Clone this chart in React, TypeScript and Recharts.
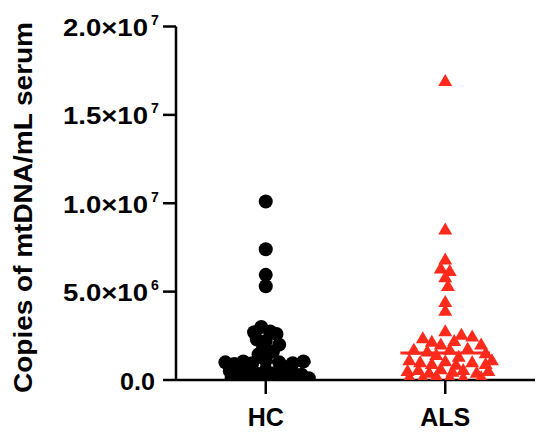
import React from 'react';
import { ComposedChart, Scatter, XAxis, YAxis, ReferenceLine } from 'recharts';

// group positions on the numeric x axis
const groups = ['HC', 'ALS'];
const groupX = [1, 3];

// y axis ticks (copies of mtDNA per mL serum)
const yTicks = [0, 5e6, 1e7, 1.5e7, 2e7];

// HC points: jittered x position, value
const hcX = [
    1.0, 1.0, 1.0, 1.0,
    0.95, 0.87, 1.05, 1.12, 0.9, 1.0, 1.15, 0.97, 1.08, 0.92,
    0.55, 0.65, 0.75, 0.85, 1.0, 1.15, 1.3, 1.42,
    0.6, 0.7, 0.8, 0.9, 1.0, 1.1, 1.2, 1.3, 1.4,
    0.62, 0.78, 0.92, 1.05, 1.22, 1.38, 1.48
];
const hcValues = [
    1.01e7, 7.4e6, 5.95e6, 5.3e6,
    3.0e6, 2.7e6, 2.75e6, 2.6e6, 2.3e6, 2.2e6, 2.0e6, 1.8e6, 1.6e6, 1.45e6,
    1.0e6, 0.9e6, 1.05e6, 0.95e6, 1.1e6, 1.0e6, 0.95e6, 1.05e6,
    0.5e6, 0.4e6, 0.6e6, 0.35e6, 0.55e6, 0.4e6, 0.6e6, 0.45e6, 0.3e6,
    0.1e6, 0.15e6, 0.08e6, 0.12e6, 0.1e6, 0.12e6, 0.1e6
];

// ALS points: jittered x position, value
const alsX = [
    3.0, 3.0, 3.0, 2.95, 3.05, 3.0, 3.03, 3.0, 3.0,
    3.0, 3.18, 3.3, 2.75, 2.85, 3.1, 3.4, 2.95,
    2.65, 2.8, 3.05, 3.25, 3.45, 2.9, 3.15,
    2.6, 2.72, 2.85, 3.0, 3.12, 3.3, 3.45, 3.52,
    2.58, 2.7, 2.82, 2.95, 3.08, 3.2, 3.35, 3.48,
    2.6, 2.75, 2.9, 3.05, 3.2, 3.4
];
const alsValues = [
    1.69e7, 8.5e6, 6.8e6, 6.3e6, 6.15e6, 5.8e6, 5.3e6, 4.4e6, 3.9e6,
    2.75e6, 2.55e6, 2.45e6, 2.35e6, 2.15e6, 2.2e6, 2.0e6, 2.0e6,
    1.7e6, 1.6e6, 1.7e6, 1.75e6, 1.5e6, 1.4e6, 1.3e6,
    1.1e6, 1.0e6, 0.9e6, 1.05e6, 0.85e6, 1.0e6, 0.9e6, 1.1e6,
    0.5e6, 0.55e6, 0.4e6, 0.6e6, 0.45e6, 0.55e6, 0.4e6, 0.5e6,
    0.15e6, 0.1e6, 0.2e6, 0.12e6, 0.1e6, 0.15e6
];

const hcMedian = 1.02e6;
const alsMedian = 1.53e6;

const FONT = '"Liberation Sans", Arial, Helvetica, sans-serif';
const RED = '#ff2a1c';

const hcData = hcX.map((x, i) => ({ x, y: hcValues[i] }));
const alsData = alsX.map((x, i) => ({ x, y: alsValues[i] }));

function YTick(props: any) {
    const { y, payload } = props;
    const v = payload.value as number;
    if (v === 0) {
        return (
            <text x={120} y={y + 9.5} fontFamily={FONT} fontWeight="bold" fontSize={23}
                textLength={35} lengthAdjust="spacingAndGlyphs" fill="#000">0.0</text>
        );
    }
    const exp = Math.floor(Math.log10(v));
    const mant = (v / Math.pow(10, exp)).toFixed(1);
    return (
        <g>
            <text x={63} y={y + 9.5} fontFamily={FONT} fontWeight="bold" fontSize={23}
                textLength={85} lengthAdjust="spacingAndGlyphs" fill="#000">{mant + '×10'}</text>
            <text x={151} y={y - 1.5} fontFamily={FONT} fontWeight="bold" fontSize={14} fill="#000">{exp}</text>
        </g>
    );
}

function XTick(props: any) {
    const { x, y, payload } = props;
    const idx = groupX.indexOf(payload.value);
    return (
        <text x={x} y={y + 30} textAnchor="middle" fontFamily={FONT} fontWeight="bold" fontSize={25} fill="#000">
            {groups[idx]}
        </text>
    );
}

const Dot = (props: any) => <circle cx={props.cx} cy={props.cy} r={7} fill="#000" />;

const Tri = (props: any) => {
    const { cx, cy } = props;
    const w = 7, h = 12;
    return <path d={`M${cx},${cy - h * 0.6}L${cx + w},${cy + h * 0.4}L${cx - w},${cy + h * 0.4}Z`} fill={RED} />;
};

function App() {
    return (
        <div style={{ position: 'absolute', left: 0, top: 0, background: '#fff' }}>
            <ComposedChart width={550} height={438} margin={{ top: 26.5, right: 15, bottom: 0, left: 0 }}>
                <XAxis type="number" dataKey="x" domain={[0, 4]} ticks={groupX} tick={<XTick />}
                    axisLine={{ stroke: '#000', strokeWidth: 2.5 }} tickLine={{ stroke: '#000', strokeWidth: 2.5 }}
                    tickSize={14} height={58} allowDataOverflow />
                <YAxis type="number" dataKey="y" domain={[0, 2e7]} ticks={yTicks} tick={<YTick />} width={176}
                    axisLine={{ stroke: '#000', strokeWidth: 2.5 }} tickLine={{ stroke: '#000', strokeWidth: 2.5 }}
                    tickSize={13} allowDataOverflow />
                <text x={32} y={207.5} transform="rotate(-90, 32, 207.5)" textAnchor="middle" fontFamily={FONT}
                    fontWeight="bold" fontSize={25} textLength={371} lengthAdjust="spacingAndGlyphs" fill="#000">
                    Copies of mtDNA/mL serum
                </text>
                <Scatter data={hcData} shape={Dot} isAnimationActive={false} />
                <Scatter data={alsData} shape={Tri} isAnimationActive={false} />
                <ReferenceLine segment={[{ x: 0.5, y: hcMedian }, { x: 1.5, y: hcMedian }]} stroke="#000" strokeWidth={3} />
                <ReferenceLine segment={[{ x: 2.5, y: alsMedian }, { x: 3.5, y: alsMedian }]} stroke={RED} strokeWidth={3} />
            </ComposedChart>
        </div>
    );
}

export default App;
